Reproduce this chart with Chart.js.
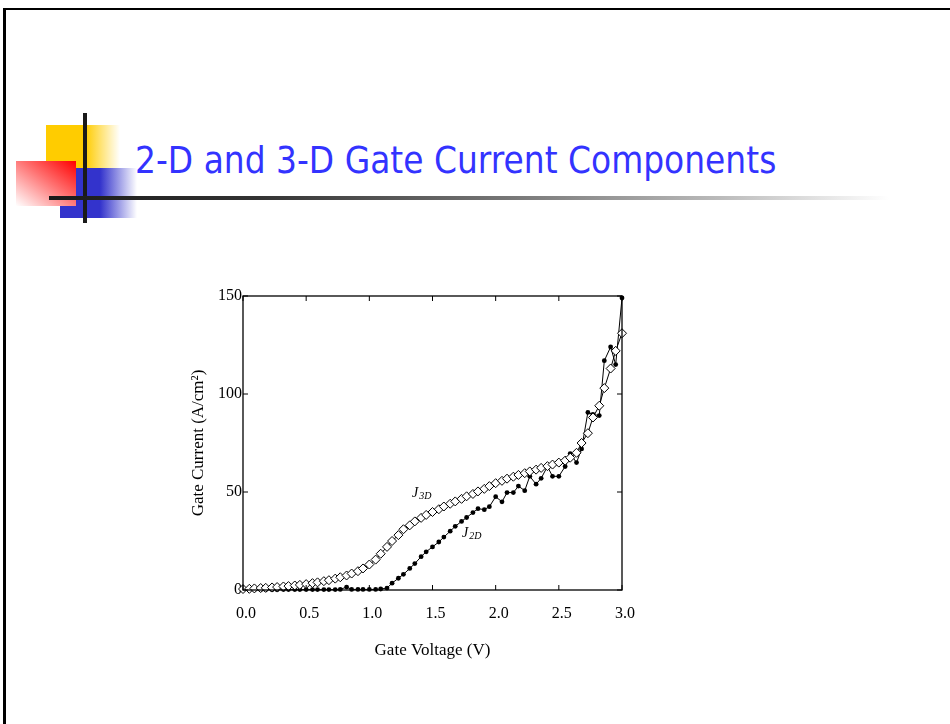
<!DOCTYPE html>
<html>
<head>
<meta charset="utf-8">
<script src="https://cdn.jsdelivr.net/npm/chart.js@4.4.1/dist/chart.umd.min.js"></script>
<style>
html, body { margin: 0; padding: 0; background: #fff; }
body { width: 950px; height: 724px; position: relative; overflow: hidden; }
#frame { position: absolute; left: 3px; top: 8px; width: 1000px; height: 800px; border-left: 3px solid #000; border-top: 2px solid #000; }
.deco { position: absolute; }
#yellow { left: 46px; top: 125px; width: 74px; height: 43px; background: linear-gradient(to right, #ffcc00 0%, #ffcc00 53%, rgba(255,204,0,0) 100%); }
#blue { left: 60px; top: 168px; width: 77px; height: 50px; background: linear-gradient(to right, #3333cc 0%, #3333cc 52%, rgba(51,51,204,0) 100%); }
#red { left: 16px; top: 161px; width: 60px; height: 45px; background: linear-gradient(to bottom left, #ff0000 0%, #ff7070 45%, #ffffff 100%); }
#vline { left: 83px; top: 113px; width: 4px; height: 110px; background: #1a1a1a; }
#hline { left: 49px; top: 196px; width: 840px; height: 4px; background: linear-gradient(to right, #1a1a1a 0%, #333 25%, #777 55%, #bbb 80%, #fff 100%); }
#title { position: absolute; left: 135px; top: 141px; font: 38px "DejaVu Sans", sans-serif; line-height: 38px; color: #3333ff; white-space: nowrap; transform-origin: 0 0; }
#chart { position: absolute; left: 0; top: 0; }
</style>
</head>
<body>
<div id="frame"></div>
<div class="deco" id="yellow"></div>
<div class="deco" id="blue"></div>
<div class="deco" id="red"></div>
<div class="deco" id="vline"></div>
<div class="deco" id="hline"></div>
<span id="title">2-D and 3-D Gate Current Components</span>
<canvas id="chart" width="950" height="724"></canvas>
<script>
// gate voltage sweep (V)
var voltage = [0.00, 0.05, 0.09, 0.14, 0.18, 0.23, 0.27, 0.32, 0.36, 0.41,
  0.45, 0.50, 0.55, 0.59, 0.64, 0.68, 0.73, 0.77, 0.82, 0.86,
  0.91, 0.95, 1.00, 1.05, 1.09, 1.14, 1.18, 1.23, 1.27, 1.32,
  1.36, 1.41, 1.45, 1.50, 1.55, 1.59, 1.64, 1.68, 1.73, 1.77,
  1.82, 1.86, 1.91, 1.95, 2.00, 2.05, 2.09, 2.14, 2.18, 2.23,
  2.27, 2.32, 2.36, 2.41, 2.45, 2.50, 2.55, 2.59, 2.64, 2.68,
  2.73, 2.77, 2.82, 2.86, 2.91, 2.95, 3.00];

// 3-D gate current (A/cm^2)
var j3d = [0.5, 0.6, 0.8, 1.0, 1.1, 1.3, 1.5, 1.8, 2.0, 2.3,
  2.6, 3.0, 3.5, 3.9, 4.5, 5.0, 5.8, 6.5, 7.4, 8.4,
  9.6, 11.0, 13.0, 15.5, 18.5, 22.0, 25.0, 28.0, 31.0, 33.0,
  35.0, 36.8, 38.3, 39.8, 41.2, 42.6, 44.0, 45.2, 46.5, 47.8,
  49.0, 50.3, 51.6, 53.0, 54.5, 55.7, 56.8, 57.8, 58.7, 59.6,
  60.5, 61.4, 62.3, 63.2, 64.0, 65.0, 66.0, 67.5, 70.0, 75.0,
  80.0, 88.0, 94.0, 103.0, 113.0, 122.0, 131.0];

// 2-D gate current (A/cm^2)
var j2d = [0.0, 0.1, 0.1, 0.1, 0.1, 0.1, 0.1, 0.2, 0.2, 0.2,
  0.2, 0.2, 0.2, 0.2, 0.2, 0.2, 0.2, 0.3, 1.5, 0.3,
  0.3, 0.3, 0.3, 0.3, 0.5, 1.0, 3.5, 6.0, 8.0, 11.0,
  13.5, 17.0, 19.5, 22.0, 24.5, 27.0, 30.0, 32.5, 35.0, 37.0,
  39.5, 41.5, 41.0, 42.5, 47.6, 45.0, 49.7, 49.7, 53.0, 50.7,
  58.0, 54.0, 57.0, 63.0, 58.0, 58.0, 63.0, 69.6, 65.0, 72.0,
  90.6, 89.6, 89.0, 117.0, 124.0, 115.0, 149.0];

var xTicks = [0, 0.5, 1.0, 1.5, 2.0, 2.5, 3.0];
var yTicks = [0, 50, 100, 150];

// stretch the heading to its line length
var title = document.getElementById('title');
title.style.transform = 'scaleX(' + (641 / title.offsetWidth) + ')';

function pts(ys) {
  return voltage.map(function (v, i) { return { x: v, y: ys[i] }; });
}

var serif = '"Liberation Serif", "Times New Roman", serif';

// box round the plot with short inward tick marks on every side
var frameTicks = {
  id: 'frameTicks',
  afterDatasetsDraw: function (chart) {
    var a = chart.chartArea, ctx = chart.ctx;
    var xs = chart.scales.x, ys = chart.scales.y;
    ctx.save();
    ctx.strokeStyle = '#000';
    ctx.lineWidth = 1.3;
    ctx.strokeRect(a.left, a.top, a.right - a.left, a.bottom - a.top);
    ctx.lineWidth = 1;
    ctx.beginPath();
    xTicks.forEach(function (v) {
      var px = xs.getPixelForValue(v);
      ctx.moveTo(px, a.bottom); ctx.lineTo(px, a.bottom - 5);
      ctx.moveTo(px, a.top); ctx.lineTo(px, a.top + 5);
    });
    yTicks.forEach(function (v) {
      var py = ys.getPixelForValue(v);
      ctx.moveTo(a.left, py); ctx.lineTo(a.left + 5, py);
      ctx.moveTo(a.right, py); ctx.lineTo(a.right - 5, py);
    });
    ctx.stroke();
    ctx.restore();
  }
};

// italic J with a subscript, placed in data coordinates
var curveLabels = {
  id: 'curveLabels',
  afterDatasetsDraw: function (chart, args, opts) {
    var ctx = chart.ctx;
    var xs = chart.scales.x, ys = chart.scales.y;
    ctx.save();
    ctx.fillStyle = '#000';
    ctx.textBaseline = 'alphabetic';
    opts.items.forEach(function (it) {
      var px = xs.getPixelForValue(it.x), py = ys.getPixelForValue(it.y);
      ctx.font = 'italic 14px ' + serif;
      ctx.fillText(it.text, px, py);
      var w = ctx.measureText(it.text).width;
      ctx.font = 'italic 10px ' + serif;
      ctx.fillText(it.sub, px + w + 1, py + 2);
    });
    ctx.restore();
  }
};

new Chart(document.getElementById('chart'), {
  type: 'line',
  data: {
    datasets: [{
      label: 'J3D',
      data: pts(j3d),
      borderColor: '#000',
      borderWidth: 1,
      pointStyle: 'rectRot',
      pointRadius: 4.5,
      pointBackgroundColor: '#fff',
      pointBorderColor: '#000',
      pointBorderWidth: 1,
      tension: 0,
      clip: false
    }, {
      label: 'J2D',
      data: pts(j2d),
      borderColor: '#000',
      borderWidth: 1,
      pointStyle: 'circle',
      pointRadius: 2.4,
      pointBackgroundColor: '#000',
      pointBorderColor: '#000',
      pointBorderWidth: 0,
      tension: 0,
      clip: false
    }]
  },
  options: {
    responsive: false,
    animation: false,
    events: [],
    layout: { padding: { left: 180, right: 328, top: 296, bottom: 54 } },
    plugins: {
      legend: { display: false },
      tooltip: { enabled: false },
      curveLabels: {
        items: [
          { text: 'J', sub: '3D', x: 1.338, y: 47.6 },
          { text: 'J', sub: '2D', x: 1.734, y: 27.1 }
        ]
      }
    },
    scales: {
      x: {
        type: 'linear',
        min: 0,
        max: 3,
        afterBuildTicks: function (scale) {
          scale.ticks = xTicks.map(function (v) { return { value: v }; });
        },
        afterFit: function (scale) { scale.height = 80; },
        grid: { display: false, drawTicks: false },
        border: { display: false },
        ticks: {
          callback: function (v) { return v.toFixed(1); },
          font: { family: serif, size: 16 },
          color: '#000',
          padding: 14,
          labelOffset: 3,
          maxRotation: 0,
          autoSkip: false
        },
        title: {
          display: true,
          text: 'Gate Voltage (V)',
          font: { family: serif, size: 17 },
          color: '#000',
          padding: { top: 0, bottom: 9 }
        }
      },
      y: {
        min: 0,
        max: 150,
        afterBuildTicks: function (scale) {
          scale.ticks = yTicks.map(function (v) { return { value: v }; });
        },
        afterFit: function (scale) { scale.width = 63; },
        grid: { display: false, drawTicks: false },
        border: { display: false },
        ticks: {
          callback: function (v) { return String(v); },
          font: { family: serif, size: 16 },
          color: '#000',
          padding: 1
        },
        title: {
          display: true,
          text: 'Gate Current (A/cm\u00b2)',
          font: { family: serif, size: 17 },
          color: '#000',
          padding: { top: 8, bottom: 0 }
        }
      }
    }
  },
  plugins: [frameTicks, curveLabels]
});
</script>
</body>
</html>
